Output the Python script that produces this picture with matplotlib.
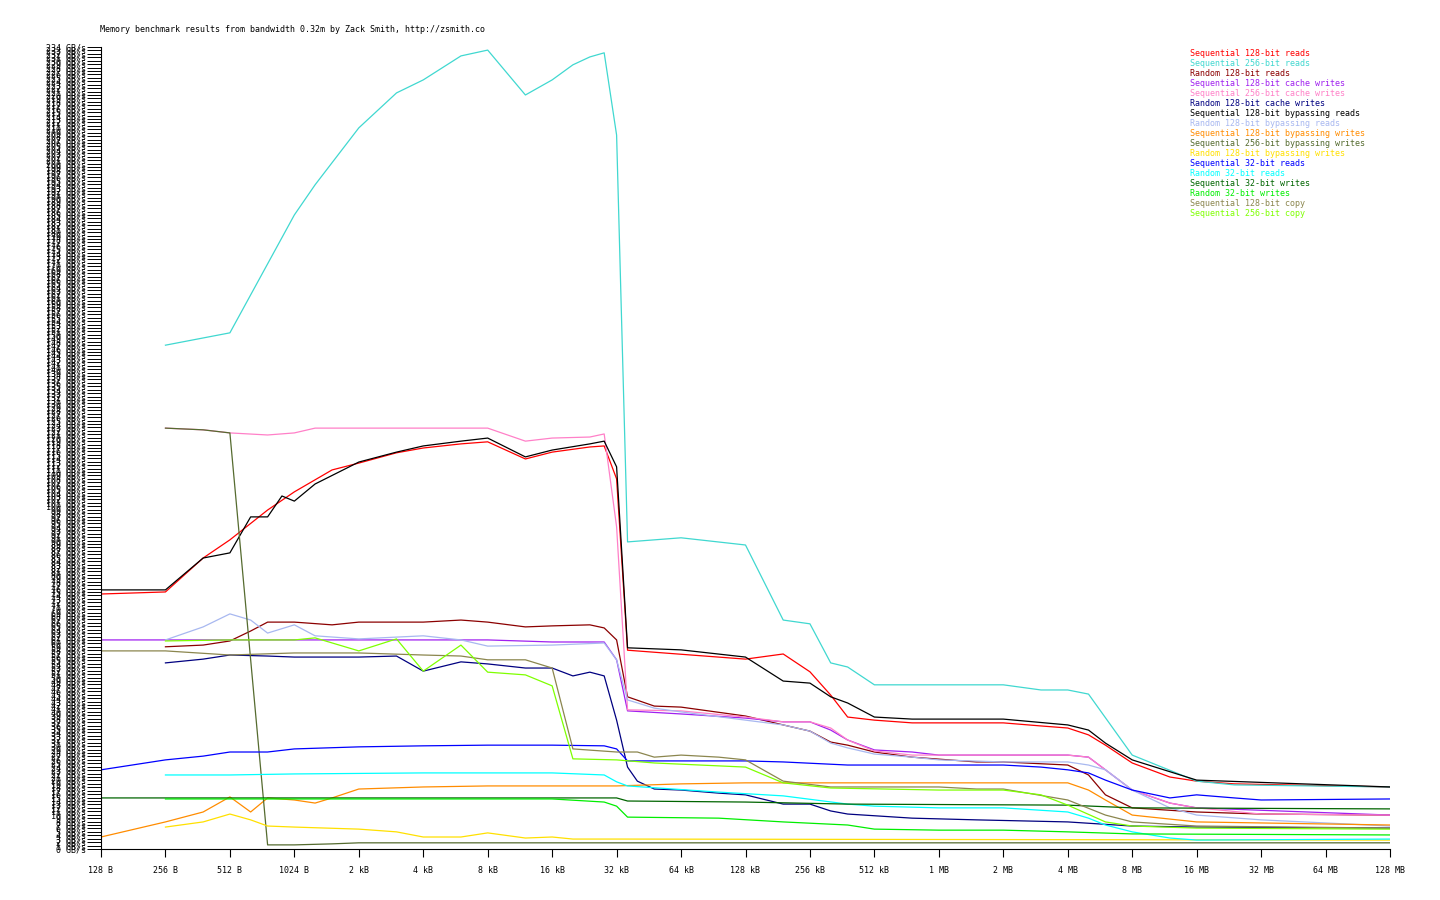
import matplotlib
matplotlib.use("Agg")
import matplotlib.pyplot as plt

K = 1024
M = 1024 * 1024

title = "Memory benchmark results from bandwidth 0.32m by Zack Smith, http://zsmith.co"

# x = chunk size in bytes, y = bandwidth in GB/s
seq128_reads_x = [128, 256, 384, 512, 768, 1*K, 1.5*K, 2*K, 3*K, 4*K, 6*K, 8*K, 12*K, 16*K, 24*K, 28*K, 32*K, 36*K,
                  128*K, 192*K, 256*K, 320*K, 384*K, 512*K, 768*K, 2*M, 3*M, 4*M, 5*M, 6*M, 8*M, 12*M, 16*M, 24*M, 128*M]
seq128_reads_y = [74.4, 75.0, 84.9, 90.2, 98.9, 104.2, 110.6, 112.6, 115.6, 117.0, 118.2, 118.8, 113.8, 115.8, 117.3, 117.6, 108.0, 58.0,
                  55.4, 56.9, 51.7, 44.9, 38.5, 37.6, 36.8, 36.8, 35.9, 35.3, 33.3, 30.3, 25.1, 21.0, 19.8, 19.0, 18.1]

seq256_reads_x = [256, 512, 1*K, 1.25*K, 2*K, 3*K, 4*K, 6*K, 8*K, 12*K, 16*K, 20*K, 24*K, 28*K, 32*K, 36*K, 64*K, 128*K,
                  192*K, 256*K, 320*K, 384*K, 512*K, 2*M, 3*M, 4*M, 5*M, 8*M, 16*M, 24*M, 128*M]
seq256_reads_y = [147.0, 150.6, 185.0, 193.8, 210.4, 220.6, 224.4, 231.4, 233.1, 220.0, 224.4, 228.8, 231.1, 232.3, 208.3, 89.6, 90.8, 88.7,
                  66.8, 65.7, 54.3, 53.1, 47.9, 47.9, 46.4, 46.4, 45.2, 27.4, 19.8, 18.7, 18.1]

rnd128_reads_x = [256, 384, 512, 640, 768, 1*K, 1.5*K, 2*K, 4*K, 6*K, 8*K, 12*K, 16*K, 24*K, 28*K, 32*K, 36*K, 48*K, 64*K,
                  128*K, 192*K, 256*K, 320*K, 384*K, 512*K, 768*K, 1.5*M, 2*M, 4*M, 5*M, 6*M, 8*M, 16*M, 32*M, 128*M]
rnd128_reads_y = [59.0, 59.5, 60.7, 63.6, 66.2, 66.2, 65.4, 66.2, 66.2, 66.8, 66.2, 64.8, 65.1, 65.4, 64.5, 61.0, 44.4, 41.7, 41.4,
                  38.8, 36.2, 34.4, 31.2, 30.3, 28.3, 26.8, 25.4, 25.4, 24.5, 21.6, 15.8, 12.0, 10.8, 10.2, 9.9]

seq128_cw_x = [128, 8*K, 16*K, 28*K, 32*K, 36*K, 64*K, 128*K, 192*K, 256*K, 320*K, 384*K, 512*K, 768*K, 1*M,
               4*M, 5*M, 6*M, 8*M, 12*M, 16*M, 128*M]
seq128_cw_y = [61.0, 61.0, 60.4, 60.4, 55.2, 40.3, 39.4, 38.2, 37.1, 37.1, 34.7, 31.8, 28.9, 28.3, 27.4,
               27.4, 26.8, 23.1, 17.2, 13.4, 12.0, 9.9]

seq256_cw_x = [256, 384, 512, 768, 1*K, 1.25*K, 8*K, 12*K, 16*K, 24*K, 28*K, 32*K, 36*K, 64*K, 128*K, 192*K, 256*K,
               320*K, 384*K, 512*K, 768*K, 4*M, 5*M, 6*M, 8*M, 12*M, 16*M, 32*M, 128*M]
seq256_cw_y = [122.8, 122.3, 121.4, 120.8, 121.4, 122.8, 122.8, 119.0, 119.9, 120.2, 121.1, 94.0, 40.6, 40.3, 38.5, 37.1, 37.1,
               35.3, 31.8, 28.6, 27.4, 27.4, 26.8, 23.1, 17.2, 13.4, 12.0, 10.2, 9.9]

rnd128_cw_x = [256, 384, 512, 768, 1*K, 2*K, 3*K, 4*K, 6*K, 8*K, 12*K, 16*K, 20*K, 24*K, 28*K, 32*K, 36*K, 40*K, 48*K,
               64*K, 96*K, 128*K, 192*K, 256*K, 320*K, 384*K, 768*K, 1.5*M, 4*M, 8*M, 16*M, 128*M]
rnd128_cw_y = [54.3, 55.4, 56.6, 56.3, 56.0, 56.0, 56.3, 51.9, 54.6, 54.0, 52.8, 52.8, 50.5, 51.6, 50.5, 37.6, 23.9, 19.8, 17.5,
               17.2, 16.3, 15.8, 13.1, 13.1, 11.1, 10.2, 9.0, 8.5, 7.9, 6.7, 6.4, 6.1]

seq128_br_x = [128, 256, 384, 512, 640, 768, 896, 1*K, 1.25*K, 2*K, 3*K, 4*K, 6*K, 8*K, 12*K, 16*K, 24*K, 28*K, 32*K, 36*K,
               64*K, 128*K, 192*K, 256*K, 320*K, 384*K, 512*K, 768*K, 2*M, 4*M, 5*M, 6*M, 8*M, 16*M, 128*M]
seq128_br_y = [75.6, 75.6, 84.9, 86.4, 96.9, 96.9, 103.0, 101.5, 106.5, 112.9, 115.8, 117.6, 119.0, 119.9, 114.4, 116.4, 118.2, 119.0, 111.5, 58.7,
               58.1, 56.0, 49.0, 48.4, 44.4, 42.6, 38.5, 37.9, 37.9, 36.2, 34.7, 30.9, 26.0, 20.1, 18.1]

rnd128_br_x = [256, 384, 512, 640, 768, 1*K, 1.25*K, 2*K, 4*K, 6*K, 8*K, 16*K, 28*K, 32*K, 36*K, 48*K, 64*K, 128*K,
               192*K, 256*K, 320*K, 384*K, 512*K, 768*K, 1*M, 2*M, 4*M, 5*M, 6*M, 8*M, 12*M, 16*M, 32*M, 128*M]
rnd128_br_y = [61.0, 64.8, 68.6, 66.8, 63.0, 65.4, 62.2, 61.3, 62.2, 61.0, 59.2, 59.5, 60.1, 55.2, 43.5, 41.1, 40.0, 37.6,
               36.2, 34.4, 30.9, 29.5, 27.7, 26.8, 26.0, 25.4, 25.4, 24.5, 23.1, 17.2, 12.0, 9.9, 8.5, 6.7]

seq128_bw_x = [128, 256, 384, 512, 640, 768, 1*K, 1.25*K, 1.5*K, 2*K, 4*K, 8*K, 32*K, 64*K, 128*K, 4*M, 5*M, 6*M, 8*M, 16*M, 128*M]
seq128_bw_y = [3.5, 7.9, 10.8, 15.2, 10.8, 14.9, 14.3, 13.4, 14.9, 17.5, 18.1, 18.4, 18.4, 19.0, 19.3, 19.3, 17.2, 14.3, 9.9, 7.9, 7.0]

seq256_bw_x = [256, 384, 512, 768, 1*K, 1.5*K, 2*K, 128*M]
seq256_bw_y = [122.8, 122.3, 121.4, 1.2, 1.2, 1.5, 1.8, 1.8]

rnd128_bw_x = [256, 384, 512, 640, 768, 1*K, 2*K, 3*K, 4*K, 6*K, 8*K, 12*K, 16*K, 20*K, 32*K, 128*M]
rnd128_bw_y = [6.4, 7.9, 10.2, 8.5, 6.7, 6.4, 5.8, 5.0, 3.5, 3.5, 4.7, 3.2, 3.5, 2.9, 2.9, 2.6]

seq32_reads_x = [128, 256, 384, 512, 768, 1*K, 2*K, 4*K, 8*K, 16*K, 28*K, 32*K, 36*K, 128*K, 192*K, 384*K,
                 2*M, 3*M, 4*M, 5*M, 6*M, 8*M, 12*M, 16*M, 24*M, 32*M, 128*M]
seq32_reads_y = [23.1, 26.0, 27.1, 28.3, 28.3, 29.2, 29.8, 30.1, 30.3, 30.3, 30.1, 29.2, 25.7, 25.7, 25.4, 24.5,
                 24.5, 23.9, 23.1, 22.2, 20.1, 17.2, 14.9, 15.8, 14.9, 14.3, 14.6]

rnd32_reads_x = [256, 512, 1*K, 4*K, 16*K, 28*K, 32*K, 36*K, 96*K, 192*K, 384*K, 512*K, 1*M, 2*M, 4*M, 5*M, 6*M, 8*M, 12*M, 16*M, 128*M]
rnd32_reads_y = [21.6, 21.6, 21.9, 22.2, 22.2, 21.6, 19.6, 18.4, 16.6, 15.5, 13.1, 12.5, 12.0, 12.0, 10.8, 9.0, 7.0, 5.0, 3.2, 2.6, 2.9]

seq32_writes_x = [128, 32*K, 36*K, 128*K, 384*K, 4*M, 8*M, 128*M]
seq32_writes_y = [14.9, 14.9, 14.0, 13.7, 13.1, 12.8, 12.0, 11.7]

rnd32_writes_x = [256, 16*K, 28*K, 32*K, 36*K, 96*K, 192*K, 384*K, 512*K, 1*M, 2*M, 4*M, 8*M, 128*M]
rnd32_writes_y = [14.6, 14.6, 13.7, 12.5, 9.3, 9.0, 7.9, 7.0, 5.8, 5.5, 5.5, 5.0, 4.4, 4.1]

seq128_copy_x = [128, 256, 512, 1*K, 2*K, 4*K, 6*K, 8*K, 12*K, 16*K, 20*K, 32*K, 40*K, 48*K, 64*K, 96*K, 128*K,
                 192*K, 320*K, 1*M, 1.5*M, 2*M, 4*M, 6*M, 8*M, 16*M, 128*M]
seq128_copy_y = [57.8, 57.8, 56.6, 57.2, 57.2, 56.6, 56.3, 55.2, 55.2, 52.8, 29.2, 28.3, 28.3, 26.8, 27.4, 26.8, 26.0,
                 19.8, 18.1, 18.1, 17.5, 17.5, 14.3, 9.9, 7.9, 6.7, 6.1]

seq256_copy_x = [256, 512, 1*K, 1.25*K, 2*K, 3*K, 4*K, 6*K, 8*K, 12*K, 16*K, 20*K, 32*K, 48*K, 128*K, 192*K, 320*K,
                 1*M, 2*M, 3*M, 4*M, 6*M, 8*M, 16*M, 128*M]
seq256_copy_y = [60.7, 61.0, 61.0, 61.6, 57.8, 61.3, 51.9, 59.5, 51.6, 50.8, 47.6, 26.3, 26.0, 25.1, 23.9, 19.3, 17.8,
                 17.2, 17.2, 15.8, 12.8, 7.9, 6.7, 6.1, 5.8]

series = [
    ("Sequential 128-bit reads", "#ff0000", seq128_reads_x, seq128_reads_y),
    ("Sequential 256-bit reads", "#40d8d0", seq256_reads_x, seq256_reads_y),
    ("Random 128-bit reads", "#8b0000", rnd128_reads_x, rnd128_reads_y),
    ("Sequential 128-bit cache writes", "#a020f0", seq128_cw_x, seq128_cw_y),
    ("Sequential 256-bit cache writes", "#ff80c8", seq256_cw_x, seq256_cw_y),
    ("Random 128-bit cache writes", "#000080", rnd128_cw_x, rnd128_cw_y),
    ("Sequential 128-bit bypassing reads", "#000000", seq128_br_x, seq128_br_y),
    ("Random 128-bit bypassing reads", "#a8b8f0", rnd128_br_x, rnd128_br_y),
    ("Sequential 128-bit bypassing writes", "#ff8c00", seq128_bw_x, seq128_bw_y),
    ("Sequential 256-bit bypassing writes", "#556b2f", seq256_bw_x, seq256_bw_y),
    ("Random 128-bit bypassing writes", "#ffe000", rnd128_bw_x, rnd128_bw_y),
    ("Sequential 32-bit reads", "#0000ff", seq32_reads_x, seq32_reads_y),
    ("Random 32-bit reads", "#00ffff", rnd32_reads_x, rnd32_reads_y),
    ("Sequential 32-bit writes", "#006400", seq32_writes_x, seq32_writes_y),
    ("Random 32-bit writes", "#00ee00", rnd32_writes_x, rnd32_writes_y),
    ("Sequential 128-bit copy", "#8b864e", seq128_copy_x, seq128_copy_y),
    ("Sequential 256-bit copy", "#7fff00", seq256_copy_x, seq256_copy_y),
]

x_ticks = [128 * 2**i for i in range(21)]
x_labels = ["128 B", "256 B", "512 B", "1024 B", "2 kB", "4 kB", "8 kB", "16 kB", "32 kB", "64 kB",
            "128 kB", "256 kB", "512 kB", "1 MB", "2 MB", "4 MB", "8 MB", "16 MB", "32 MB", "64 MB", "128 MB"]
y_max = 234

plt.rcParams['font.family'] = ['DejaVu Sans Mono']

fig = plt.figure(figsize=(14.4, 9), dpi=100)
ax = fig.add_axes([101/1440, 51/900, 1289/1440, 802/900])

for name, color, xs, ys in series:
    ax.plot(xs, ys, color=color, linewidth=0.9)

ax.set_xscale('log', base=2)
ax.set_xlim(128, 128*M)
ax.set_ylim(0, y_max)
ax.set_xticks(x_ticks)
ax.set_xticklabels(x_labels, fontsize=6)
ax.minorticks_off()
ax.set_yticks(range(0, y_max + 1))
ax.set_yticklabels([f"{v} GB/s" for v in range(0, y_max + 1)], fontsize=6)
ax.tick_params(axis='x', direction='out', length=6, width=0.8, pad=6)
ax.tick_params(axis='y', direction='out', length=10, width=0.7, pad=1)
ax.spines['top'].set_visible(False)
ax.spines['right'].set_visible(False)
ax.spines['left'].set_linewidth(0.8)
ax.spines['bottom'].set_linewidth(0.8)

fig.text(100/1440, 1 - 29/900, title, fontsize=6, va='center', ha='left')

for i, (name, color, xs, ys) in enumerate(series):
    fig.text(1190/1440, 1 - (53 + 10*i)/900, name, color=color, fontsize=6, va='center', ha='left')

fig.savefig("out.png", dpi=100)
